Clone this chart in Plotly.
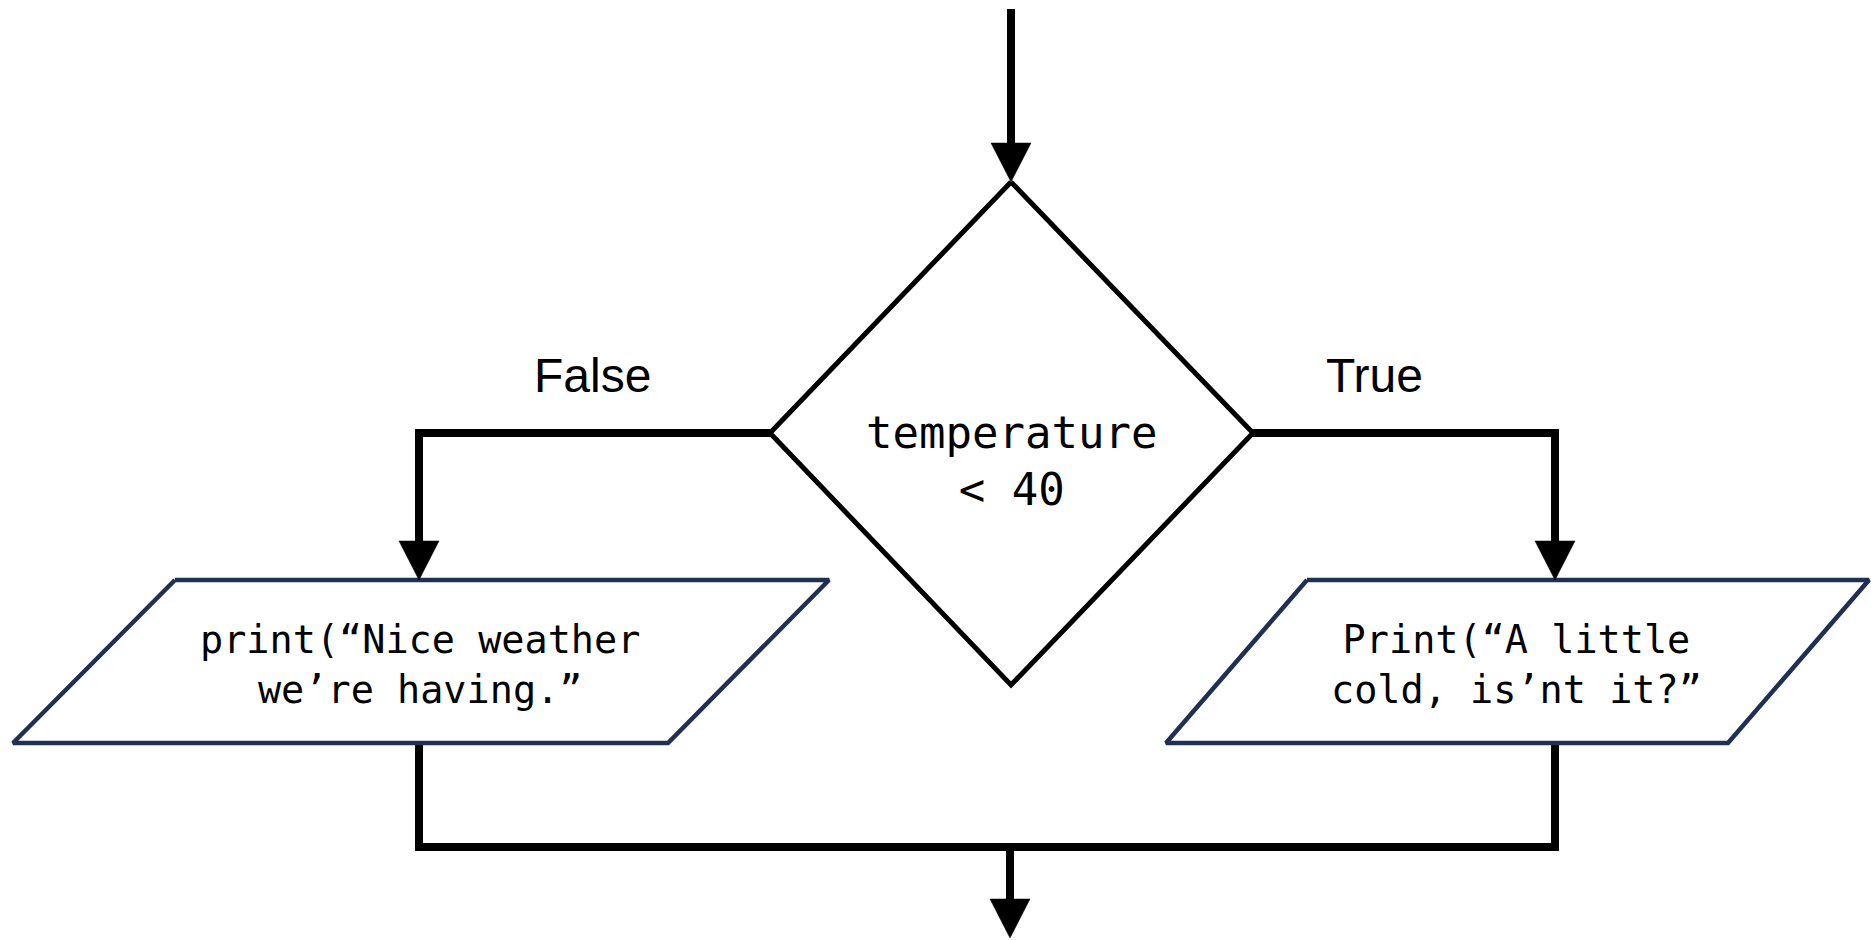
import plotly.graph_objects as go

W, H = 1871, 940

# ---- flowchart data (pixel space of the 1871x940 canvas, y downward) ----
decision_text = "temperature<br>&lt; 40"
decision_x = [1011, 1253, 1011, 770, 1011]
decision_y = [182, 433, 685, 433, 182]
decision_center = (1011, 461)

false_label = "False"
false_label_pos = (592, 375)
true_label = "True"
true_label_pos = (1374, 375)

left_io_text = "print(“Nice weather<br>we’re having.”"
left_io_x = [175, 829, 668, 13, 175]
left_io_y = [580, 580, 743, 743, 580]
left_io_center = (420, 664)

right_io_text = "Print(“A little<br>cold, is’nt it?”"
right_io_x = [1307, 1869, 1728, 1166, 1307]
right_io_y = [580, 580, 743, 743, 580]
right_io_center = (1516, 664)

# connector polylines
conn_top_x, conn_top_y = [1011, 1011], [9, 150]
conn_false_x, conn_false_y = [770, 419, 419], [433, 433, 548]
conn_true_x, conn_true_y = [1253, 1555, 1555], [433, 433, 548]
conn_left_out_x, conn_left_out_y = [419, 419], [743, 847]
conn_right_out_x, conn_right_out_y = [1555, 1555], [743, 847]
conn_merge_x, conn_merge_y = [415, 1559], [847, 847]
conn_exit_x, conn_exit_y = [1010, 1010], [847, 910]

# arrowhead tips (x, y), pointing downward
arrow_tips_x = [1011, 419, 1555, 1010]
arrow_tips_y = [182, 580, 580, 938]
ARROW_W, ARROW_H = 40, 39

fig = go.Figure()

def add_line(xs, ys, color="black", width=8):
    fig.add_trace(go.Scatter(x=xs, y=ys, mode="lines",
                             line=dict(color=color, width=width),
                             hoverinfo="skip"))

def add_poly(xs, ys, color, width):
    fig.add_trace(go.Scatter(x=xs, y=ys, mode="lines", fill="toself",
                             fillcolor="white",
                             line=dict(color=color, width=width),
                             hoverinfo="skip"))

# connectors
for xs, ys in [(conn_top_x, conn_top_y), (conn_false_x, conn_false_y),
               (conn_true_x, conn_true_y), (conn_left_out_x, conn_left_out_y),
               (conn_right_out_x, conn_right_out_y), (conn_merge_x, conn_merge_y),
               (conn_exit_x, conn_exit_y)]:
    add_line(xs, ys)

# shapes
add_poly(decision_x, decision_y, "black", 5)
add_poly(left_io_x, left_io_y, "#1f3052", 4.5)
add_poly(right_io_x, right_io_y, "#1f3052", 4.5)

# arrowheads
for tx, ty in zip(arrow_tips_x, arrow_tips_y):
    fig.add_trace(go.Scatter(
        x=[tx - ARROW_W / 2, tx + ARROW_W / 2, tx, tx - ARROW_W / 2],
        y=[ty - ARROW_H, ty - ARROW_H, ty, ty - ARROW_H],
        mode="lines", fill="toself", fillcolor="black",
        line=dict(color="black", width=0.5), hoverinfo="skip"))

mono = "DejaVu Sans Mono, Consolas, monospace"
sans = "Liberation Sans, Arial, sans-serif"

annots = [
    dict(text=decision_text, x=decision_center[0], y=decision_center[1],
         font=dict(family=mono, size=44, color="black")),
    dict(text=left_io_text, x=left_io_center[0], y=left_io_center[1],
         font=dict(family=mono, size=38.5, color="black")),
    dict(text=right_io_text, x=right_io_center[0], y=right_io_center[1],
         font=dict(family=mono, size=38.5, color="black")),
    dict(text=false_label, x=false_label_pos[0], y=false_label_pos[1],
         font=dict(family=sans, size=48, color="black")),
    dict(text=true_label, x=true_label_pos[0], y=true_label_pos[1],
         font=dict(family=sans, size=48, color="black")),
]
for a in annots:
    fig.add_annotation(xref="x", yref="y", showarrow=False,
                       xanchor="center", yanchor="middle", align="center", **a)

fig.update_layout(
    width=W, height=H, autosize=False,
    margin=dict(l=0, r=0, t=0, b=0),
    paper_bgcolor="white", plot_bgcolor="white",
    showlegend=False,
    xaxis=dict(range=[0, W], visible=False, fixedrange=True),
    yaxis=dict(range=[H, 0], visible=False, fixedrange=True),
)

fig.write_html(
    "out.html",
    config={"displayModeBar": False},
    post_script="document.body.style.margin='0';document.body.style.padding='0';"
                "document.body.style.overflow='hidden';",
)
